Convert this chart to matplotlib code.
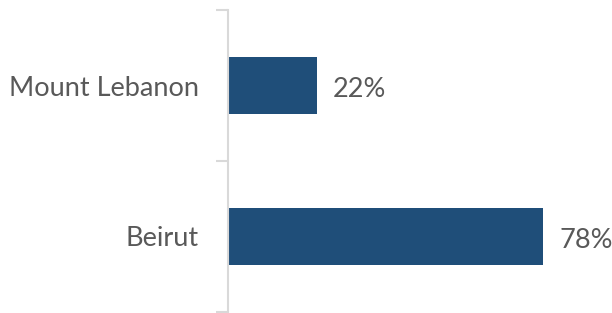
import matplotlib.pyplot as plt
import numpy as np

# ---------------- data ----------------
regions = ["Beirut", "Mount Lebanon"]
shares = [78, 22]

BAR_COLOR = "#1F4E79"
TEXT_COLOR = "#595959"
AXIS_COLOR = "#D9D9D9"

plt.rcParams["font.family"] = ["Lato", "DejaVu Sans"]

fig = plt.figure(figsize=(6.12, 3.13), dpi=100)
ax = fig.add_axes([228 / 612, 1 / 313, (612 - 228) / 612, 302 / 313])

y = np.arange(len(regions))
ax.barh(y, shares, height=0.38, color=BAR_COLOR)

ax.set_xlim(0, (612 - 228) / 4.04)
ax.set_ylim(-0.5, len(regions) - 0.5)

# category labels, with separator ticks between them
ax.set_yticks(y)
ax.set_yticklabels(regions, fontsize=19.5, color=TEXT_COLOR)
ax.tick_params(axis="y", which="major", length=0, pad=21)
ax.set_yticks([-0.5, 0.5, 1.5], minor=True)
ax.tick_params(axis="y", which="minor", length=9, width=1.5, color=AXIS_COLOR)
ax.set_xticks([])

for side in ["top", "right", "bottom"]:
    ax.spines[side].set_visible(False)
ax.spines["left"].set_color(AXIS_COLOR)
ax.spines["left"].set_linewidth(1.5)

# value labels
for yi, v in zip(y, shares):
    ax.annotate(f"{v}%", (v, yi), xytext=(16, -4), textcoords="offset pixels",
                ha="left", va="center", fontsize=19.5, color=TEXT_COLOR)

fig.savefig("out.png", dpi=100)
